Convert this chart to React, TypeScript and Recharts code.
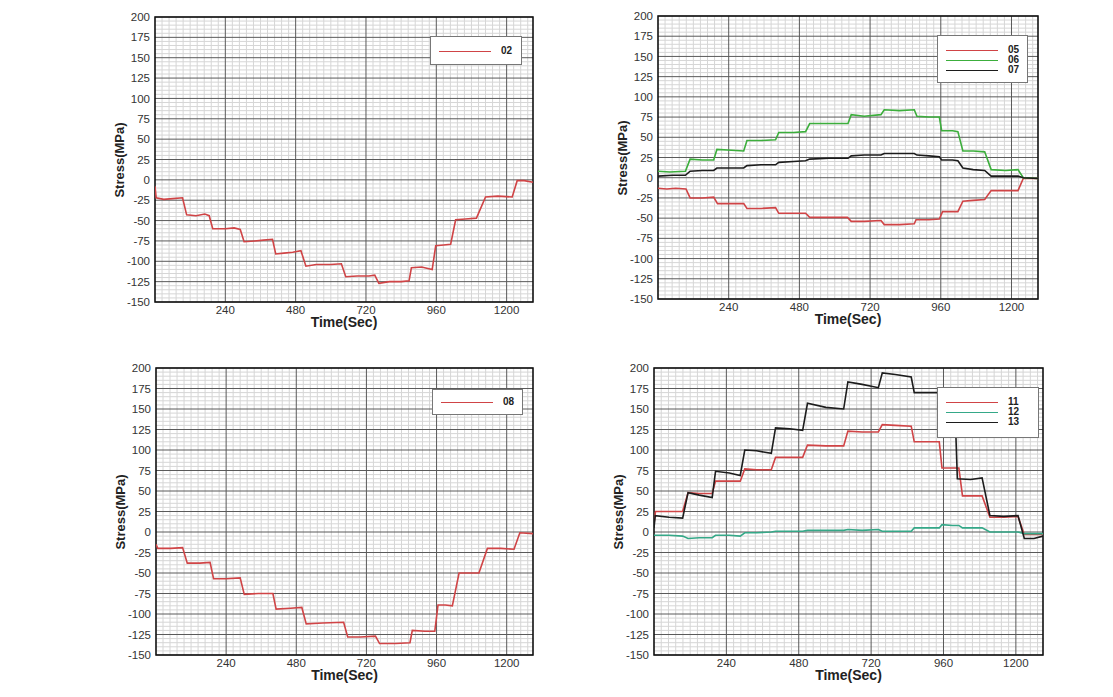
import React from "react";
import {
  LineChart,
  Line,
  XAxis,
  YAxis,
  CartesianGrid,
  ReferenceArea,
} from "recharts";

const FONT = "Arial, 'Liberation Sans', Helvetica, sans-serif";

const xTicks = [240, 480, 720, 960, 1200];
const yTicks = [-150, -125, -100, -75, -50, -25, 0, 25, 50, 75, 100, 125, 150, 175, 200];
const xMinor = [24, 48, 72, 96, 120, 144, 168, 192, 216, 264, 288, 312, 336, 360, 384, 408, 432, 456, 504, 528, 552, 576, 600, 624, 648, 672, 696, 744, 768, 792, 816, 840, 864, 888, 912, 936, 984, 1008, 1032, 1056, 1080, 1104, 1128, 1152, 1176, 1224, 1248, 1272];
const yMinor = [-145, -140, -135, -130, -120, -115, -110, -105, -95, -90, -85, -80, -70, -65, -60, -55, -45, -40, -35, -30, -20, -15, -10, -5, 5, 10, 15, 20, 30, 35, 40, 45, 55, 60, 65, 70, 80, 85, 90, 95, 105, 110, 115, 120, 130, 135, 140, 145, 155, 160, 165, 170, 180, 185, 190, 195];

// [time (s), stress (MPa)]
const s02 = [
  [0, -8], [4, -22], [30, -24], [60, -23], [94, -22], [108, -43], [140, -44], [170, -42], [185, -44],
  [197, -60], [240, -60], [270, -59], [291, -61], [304, -76], [340, -75], [370, -74], [401, -73],
  [412, -91], [440, -90], [470, -89], [498, -87], [515, -106], [550, -104], [600, -104], [636, -103],
  [651, -119], [690, -118], [730, -118], [750, -117], [764, -127], [800, -125], [840, -125], [867, -124],
  [875, -108], [910, -107], [946, -110], [958, -81], [985, -80], [1009, -79], [1026, -49], [1060, -48],
  [1097, -47], [1128, -21], [1170, -20], [1219, -21], [1236, -1], [1260, -1], [1290, -3],
];

const s05 = [
  [0, -13], [30, -14], [60, -13], [95, -14], [109, -25], [150, -25], [189, -24], [202, -32], [250, -32],
  [291, -32], [302, -38], [350, -38], [399, -37], [410, -44], [460, -44], [501, -44], [515, -49],
  [580, -49], [643, -49], [656, -54], [700, -54], [757, -53], [768, -58], [820, -58], [870, -57],
  [876, -52], [920, -52], [955, -51], [966, -42], [1000, -42], [1018, -42], [1035, -29], [1070, -28],
  [1109, -27], [1131, -16], [1180, -16], [1222, -16], [1240, -1], [1290, -1],
];

const s06 = [
  [0, 8], [40, 7], [93, 8], [109, 23], [150, 22], [189, 22], [200, 35], [250, 34], [291, 33],
  [302, 46], [350, 46], [399, 47], [410, 56], [460, 56], [501, 57], [515, 67], [580, 67], [645, 67],
  [656, 78], [700, 76], [757, 78], [768, 84], [820, 83], [870, 84], [879, 76], [920, 75], [955, 75],
  [963, 58], [1000, 58], [1018, 57], [1035, 33], [1070, 33], [1109, 32], [1131, 10], [1180, 9],
  [1222, 10], [1240, 0], [1290, -1],
];

const s07 = [
  [0, 2], [50, 3], [93, 3], [109, 8], [150, 9], [189, 9], [200, 12], [250, 12], [291, 12], [302, 15],
  [350, 16], [399, 16], [410, 19], [460, 20], [501, 21], [515, 23], [580, 24], [645, 24], [656, 27],
  [700, 28], [757, 28], [768, 30], [820, 30], [870, 30], [879, 28], [920, 27], [955, 26], [963, 22],
  [1000, 22], [1018, 21], [1035, 12], [1070, 10], [1109, 9], [1131, 2], [1180, 2], [1222, 2],
  [1240, 0], [1290, -1],
];

const s08 = [
  [0, -15], [6, -20], [50, -20], [91, -19], [107, -38], [150, -38], [185, -37], [197, -57], [240, -57],
  [288, -56], [302, -76], [350, -75], [400, -75], [411, -94], [460, -93], [499, -92], [514, -112],
  [570, -111], [642, -110], [656, -128], [700, -128], [751, -127], [765, -136], [820, -136], [869, -135],
  [877, -120], [920, -121], [954, -121], [965, -89], [990, -89], [1014, -90], [1037, -50], [1070, -50],
  [1105, -50], [1134, -20], [1180, -20], [1225, -21], [1245, -1], [1290, -2],
];

const s11 = [
  [0, 10], [5, 25], [50, 25], [95, 25], [113, 48], [150, 47], [193, 47], [204, 62], [250, 62],
  [286, 62], [301, 77], [340, 76], [389, 76], [403, 91], [450, 91], [493, 91], [509, 106], [570, 105],
  [629, 105], [643, 123], [690, 122], [744, 122], [757, 131], [800, 130], [853, 129], [863, 110],
  [900, 110], [946, 110], [955, 78], [990, 78], [1011, 78], [1023, 44], [1060, 44], [1088, 44],
  [1114, 18], [1160, 18], [1207, 19], [1228, -3], [1290, -3],
];

const s12 = [
  [0, -4], [50, -4], [95, -5], [113, -8], [150, -7], [193, -7], [204, -4], [250, -4], [286, -5],
  [301, -1], [340, -1], [389, 0], [403, 1], [450, 1], [493, 1], [509, 2], [570, 2], [629, 2],
  [643, 3], [690, 2], [744, 3], [757, 1], [800, 1], [853, 1], [863, 5], [900, 5], [946, 5],
  [955, 9], [990, 8], [1011, 8], [1023, 5], [1060, 5], [1088, 5], [1114, 0], [1160, 0], [1207, 0],
  [1228, -2], [1290, -2],
];

const s13 = [
  [0, 5], [4, 20], [50, 18], [95, 17], [113, 48], [150, 45], [193, 42], [204, 74], [250, 72],
  [286, 69], [301, 100], [340, 99], [389, 96], [403, 127], [450, 126], [493, 124], [509, 157],
  [570, 152], [629, 150], [643, 183], [690, 180], [744, 176], [757, 194], [800, 192], [853, 189],
  [863, 170], [900, 170], [946, 170], [955, 130], [1000, 130], [1006, 65], [1050, 64], [1088, 66],
  [1114, 20], [1160, 19], [1207, 20], [1228, -8], [1260, -8], [1290, -5],
];

const RED = "#d04446";
const GREEN = "#3cae3c";
const TEAL = "#35a888";
const BLACK = "#1c1c1c";

interface Series {
  name: string;
  color: string;
  points: number[][];
}

interface PanelProps {
  left: number;
  top: number;
  w: number;
  h: number;
  series: Series[];
  legend: { dx: number; dy: number; w: number; h: number };
}

const toRows = (pts: number[][]) => pts.map(([t, v]) => ({ t, v }));

const Panel: React.FC<PanelProps> = ({ left, top, w, h, series, legend }) => {
  const yAxisW = 55;
  const mTop = 17;
  const mRight = 8;
  const xAxisH = 40;
  const multi = series.length > 1;
  return (
    <>
      <div
        style={{
          position: "absolute",
          left: left - yAxisW,
          top: top - mTop,
          width: w + yAxisW + mRight,
          height: h + mTop + xAxisH,
        }}
      >
        <LineChart
          width={w + yAxisW + mRight}
          height={h + mTop + xAxisH}
          margin={{ top: mTop, right: mRight, left: 0, bottom: 0 }}
        >
          <CartesianGrid
            stroke="#d6d6d6"
            strokeWidth={1}
            horizontalValues={yMinor}
            verticalValues={xMinor}
          />
          <CartesianGrid
            stroke="#5a5a5a"
            strokeWidth={1}
            horizontalValues={yTicks}
            verticalValues={xTicks}
          />
          <XAxis
            type="number"
            dataKey="t"
            domain={[0, 1290]}
            ticks={xTicks}
            interval={0}
            allowDataOverflow
            tickLine={false}
            axisLine={false}
            tickSize={2}
            tickMargin={2}
            height={xAxisH}
            tick={{ fontSize: 11.5, fill: "#333", fontFamily: FONT }}
          />
          <YAxis
            type="number"
            domain={[-150, 200]}
            ticks={yTicks}
            interval={0}
            allowDataOverflow
            tickLine={false}
            axisLine={false}
            tickSize={3}
            tickMargin={2}
            width={yAxisW}
            tick={{ fontSize: 11.5, fill: "#333", fontFamily: FONT }}
          />
          {series.map((s) => (
            <Line
              key={s.name}
              data={toRows(s.points)}
              dataKey="v"
              name={s.name}
              type="linear"
              stroke={s.color}
              strokeWidth={1.6}
              dot={false}
              activeDot={false}
              isAnimationActive={false}
            />
          ))}
          <ReferenceArea
            x1={0}
            x2={1290}
            y1={-150}
            y2={200}
            fill="none"
            stroke="#111"
            strokeWidth={1.6}
          />
        </LineChart>
      </div>
      <div
        style={{
          position: "absolute",
          left: left - 35 - 60,
          top: top + h / 2 - 8,
          width: 120,
          height: 16,
          transform: "rotate(-90deg)",
          textAlign: "center",
          fontFamily: FONT,
          fontWeight: "bold",
          fontSize: 13,
          lineHeight: "16px",
          color: "#222",
        }}
      >
        Stress(MPa)
      </div>
      <div
        style={{
          position: "absolute",
          left: left + w / 2 - 60,
          top: top + h + 12,
          width: 120,
          textAlign: "center",
          fontFamily: FONT,
          fontWeight: "bold",
          fontSize: 14,
          lineHeight: "16px",
          color: "#222",
        }}
      >
        Time(Sec)
      </div>
      <div
        style={{
          position: "absolute",
          left: left + legend.dx,
          top: top + legend.dy,
          width: legend.w,
          height: legend.h,
          background: "#fff",
          border: "1px solid #777",
          boxSizing: "border-box",
        }}
      >
        {series.map((s, i) => {
          const y = multi ? 14 + i * 10 : legend.h / 2 - 1;
          return (
            <div key={s.name}>
              <div
                style={{
                  position: "absolute",
                  left: 8,
                  top: y,
                  width: 52,
                  height: 1,
                  background: s.color,
                }}
              />
              <div
                style={{
                  position: "absolute",
                  left: 70,
                  top: y - 6,
                  fontFamily: FONT,
                  fontWeight: "bold",
                  fontSize: 10,
                  lineHeight: "12px",
                  color: "#222",
                }}
              >
                {s.name}
              </div>
            </div>
          );
        })}
      </div>
    </>
  );
};

export default function App() {
  return (
    <div
      style={{
        position: "absolute",
        left: 0,
        top: 0,
        width: 1113,
        height: 697,
        background: "#fff",
        overflow: "hidden",
      }}
    >
      <Panel
        left={155}
        top={17}
        w={378}
        h={285}
        series={[{ name: "02", color: RED, points: s02 }]}
        legend={{ dx: 275, dy: 19, w: 92, h: 29 }}
      />
      <Panel
        left={658}
        top={16}
        w={380}
        h={283}
        series={[
          { name: "05", color: RED, points: s05 },
          { name: "06", color: GREEN, points: s06 },
          { name: "07", color: BLACK, points: s07 },
        ]}
        legend={{ dx: 279, dy: 19, w: 91, h: 48 }}
      />
      <Panel
        left={156}
        top={368}
        w={377}
        h={287}
        series={[{ name: "08", color: RED, points: s08 }]}
        legend={{ dx: 276, dy: 21, w: 91, h: 26 }}
      />
      <Panel
        left={654}
        top={368}
        w={389}
        h={287}
        series={[
          { name: "11", color: RED, points: s11 },
          { name: "12", color: TEAL, points: s12 },
          { name: "13", color: BLACK, points: s13 },
        ]}
        legend={{ dx: 283, dy: 19, w: 102, h: 51 }}
      />
    </div>
  );
}
